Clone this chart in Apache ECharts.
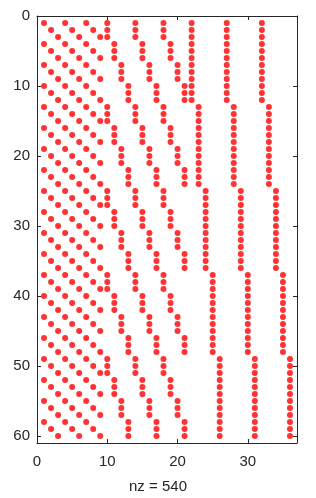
<!DOCTYPE html>
<html>
<head>
<meta charset="utf-8">
<script src="https://cdn.jsdelivr.net/npm/echarts@6/dist/echarts.min.js"></script>
<style>html,body{margin:0;padding:0;background:#fff;}#c{width:316px;height:498px;}</style>
</head>
<body>
<div id="c"></div>
<script>
// Nonzero column indices for each row (rows 1..60)
var rowCols = [
  [1,4,7,10,14,18,22,27,32],[2,5,8,10,14,18,22,27,32],[3,6,9,10,14,18,22,27,32],
  [1,4,7,11,15,19,22,27,32],[2,5,8,11,15,19,22,27,32],[3,6,9,11,15,19,22,27,32],
  [1,4,7,12,16,20,22,27,32],[2,5,8,12,16,20,22,27,32],[3,6,9,12,16,20,22,27,32],
  [1,4,7,13,17,21,22,27,32],[2,5,8,13,17,21,22,27,32],[3,6,9,13,17,21,22,27,32],
  [1,4,7,10,14,18,23,28,33],[2,5,8,10,14,18,23,28,33],[3,6,9,10,14,18,23,28,33],
  [1,4,7,11,15,19,23,28,33],[2,5,8,11,15,19,23,28,33],[3,6,9,11,15,19,23,28,33],
  [1,4,7,12,16,20,23,28,33],[2,5,8,12,16,20,23,28,33],[3,6,9,12,16,20,23,28,33],
  [1,4,7,13,17,21,23,28,33],[2,5,8,13,17,21,23,28,33],[3,6,9,13,17,21,23,28,33],
  [1,4,7,10,14,18,24,29,34],[2,5,8,10,14,18,24,29,34],[3,6,9,10,14,18,24,29,34],
  [1,4,7,11,15,19,24,29,34],[2,5,8,11,15,19,24,29,34],[3,6,9,11,15,19,24,29,34],
  [1,4,7,12,16,20,24,29,34],[2,5,8,12,16,20,24,29,34],[3,6,9,12,16,20,24,29,34],
  [1,4,7,13,17,21,24,29,34],[2,5,8,13,17,21,24,29,34],[3,6,9,13,17,21,24,29,34],
  [1,4,7,10,14,18,25,30,35],[2,5,8,10,14,18,25,30,35],[3,6,9,10,14,18,25,30,35],
  [1,4,7,11,15,19,25,30,35],[2,5,8,11,15,19,25,30,35],[3,6,9,11,15,19,25,30,35],
  [1,4,7,12,16,20,25,30,35],[2,5,8,12,16,20,25,30,35],[3,6,9,12,16,20,25,30,35],
  [1,4,7,13,17,21,25,30,35],[2,5,8,13,17,21,25,30,35],[3,6,9,13,17,21,25,30,35],
  [1,4,7,10,14,18,26,31,36],[2,5,8,10,14,18,26,31,36],[3,6,9,10,14,18,26,31,36],
  [1,4,7,11,15,19,26,31,36],[2,5,8,11,15,19,26,31,36],[3,6,9,11,15,19,26,31,36],
  [1,4,7,12,16,20,26,31,36],[2,5,8,12,16,20,26,31,36],[3,6,9,12,16,20,26,31,36],
  [1,4,7,13,17,21,26,31,36],[2,5,8,13,17,21,26,31,36],[3,6,9,13,17,21,26,31,36]
];
var xTicks = [0, 10, 20, 30];
var yTicks = [0, 10, 20, 30, 40, 50, 60];
var xLabel = 'nz = 540';

var points = [];
for (var r = 0; r < rowCols.length; r++) {
  for (var k = 0; k < rowCols[r].length; k++) {
    points.push([rowCols[r][k], r + 1]);
  }
}

var axisColor = '#262626';
var font = 'Liberation Sans, Arial, Helvetica, sans-serif';
var fs = 15;
function xAx(pos, show) {
  return {
    type: 'value', position: pos, min: 0, max: 37, interval: 10,
    axisLine: {show: true, onZero: false, lineStyle: {color: axisColor, width: 1}},
    axisTick: {show: true, inside: true, length: 4, lineStyle: {color: axisColor}},
    axisLabel: {show: show, color: axisColor, fontSize: fs, fontFamily: font, margin: 11,
      showMaxLabel: false,
      formatter: function (v) { return xTicks.indexOf(v) >= 0 ? String(v) : ''; }},
    splitLine: {show: false}
  };
}
function yAx(pos, show) {
  return {
    type: 'value', position: pos, min: 0, max: 61, interval: 10, inverse: true,
    axisLine: {show: true, onZero: false, lineStyle: {color: axisColor, width: 1}},
    axisTick: {show: true, inside: true, length: 4, lineStyle: {color: axisColor}},
    axisLabel: {show: show, color: axisColor, fontSize: fs, fontFamily: font, margin: 7,
      showMaxLabel: false,
      formatter: function (v) { return yTicks.indexOf(v) >= 0 ? String(v) : ''; }},
    splitLine: {show: false}
  };
}

var chart = echarts.init(document.getElementById('c'), null, {renderer: 'canvas'});
chart.setOption({
  animation: false,
  backgroundColor: '#ffffff',
  grid: {left: 37, top: 16, width: 260, height: 427, containLabel: false},
  xAxis: [xAx('bottom', true), xAx('top', false)],
  yAxis: [yAx('left', true), yAx('right', false)],
  graphic: [{
    type: 'text', left: 'center', x: 0, top: 479,
    style: {text: xLabel, fill: axisColor, fontSize: fs, fontFamily: font}
  }],
  series: [{
    type: 'scatter', xAxisIndex: 0, yAxisIndex: 0,
    symbol: 'circle', symbolSize: 6,
    itemStyle: {color: '#ff0000'},
    data: points, silent: true
  }]
});
</script>
</body>
</html>
